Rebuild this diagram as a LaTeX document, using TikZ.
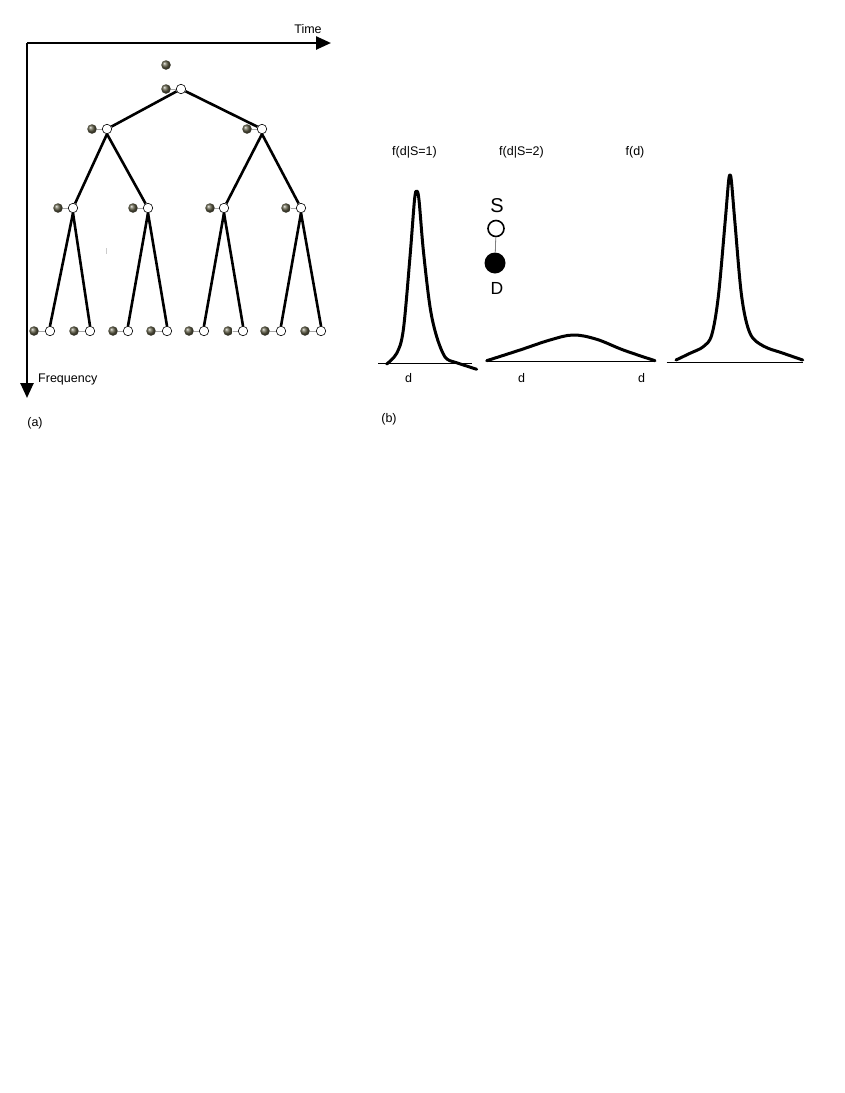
\documentclass[tikz,border=0pt]{standalone}
\usepackage{fontspec}
\setmainfont{Liberation Sans}
\usetikzlibrary{arrows.meta}
\definecolor{ballc}{RGB}{95,93,70}
\tikzset{
  wball/.style={circle,draw=black,fill=white,inner sep=0pt,minimum size=9.5pt,line width=0.6pt},
  dball/.style={circle,inner sep=0pt,minimum size=9.5pt,shading=ball,ball color=ballc},
  edge/.style={line width=2.6pt},
  link/.style={draw=gray!70,line width=0.7pt},
  axis/.style={line width=2.5pt,-{Triangle[length=15pt,width=13pt]}},
  curve/.style={line width=3pt,line join=round,line cap=round},
  base/.style={line width=1.2pt},
  lbl/.style={font=\fontsize{12.5}{14}\selectfont,inner sep=0pt}
}
\begin{document}
\begin{tikzpicture}[x=1pt,y=-1pt]
\useasboundingbox[fill=white] (0,0) rectangle (845,1093);
% axes
\coordinate (o) at (27,43);
\coordinate (tx) at (331,43);
\coordinate (fy) at (27,398);
\draw[axis] (o) -- (tx);
\draw[axis] (o) -- (fy);
\node[lbl] (time) at (308,29) {Time};
\node[lbl,anchor=west] (freq) at (38,379) {Frequency};
\node[lbl] (la) at (35,423) {(a)};
\node[lbl] (lb) at (389,419) {(b)};
% tree
\node[dball] (top) at (166,65) {};
\node[wball] (r) at (181,89) {};
\node[dball] (rd) at (166,89) {};
\node[wball] (a) at (107,129) {};
\node[dball] (ad) at (92,129) {};
\node[wball] (b) at (262,129) {};
\node[dball] (bd) at (247,129) {};
\foreach \n/\x/\dx in {a1/73/58, a2/148/133, b1/224/210, b2/301/286}{
  \node[wball] (\n) at (\x,208) {};
  \node[dball] (\n d) at (\dx,208) {};
}
\foreach \n/\x/\dx in {c1/50/34, c2/90/74, c3/128/113, c4/167/151, c5/204/189, c6/243/228, c7/281/265, c8/321/305}{
  \node[wball] (\n) at (\x,331) {};
  \node[dball] (\n d) at (\dx,331) {};
}
\foreach \n in {r,a,b,a1,a2,b1,b2,c1,c2,c3,c4,c5,c6,c7,c8}{
  \draw[link] (\n d) -- (\n);
}
\draw[edge] (r) -- (a);
\draw[edge] (r) -- (b);
\draw[edge] (a.south) -- (a1);
\draw[edge] (a.south) -- (a2);
\draw[edge] (b.south) -- (b1);
\draw[edge] (b.south) -- (b2);
\draw[edge] (a1.south) -- (c1.north);
\draw[edge] (a1.south) -- (c2.north);
\draw[edge] (a2.south) -- (c3.north);
\draw[edge] (a2.south) -- (c4.north);
\draw[edge] (b1.south) -- (c5.north);
\draw[edge] (b1.south) -- (c6.north);
\draw[edge] (b2.south) -- (c7.north);
\draw[edge] (b2.south) -- (c8.north);
\draw[gray!40,line width=0.6pt] (106,248) -- (106,254);
% panel b labels
\node[lbl] (t1) at (414.5,152.5) {f(d|S=1)};
\node[lbl] (t2) at (521.5,152.5) {f(d|S=2)};
\node[lbl] (t3) at (635,152.5) {f(d)};
\node[lbl] (d1) at (408.5,378) {d};
\node[lbl] (d2) at (521.5,378) {d};
\node[lbl] (d3) at (641.5,378) {d};
% S-D legend
\node[inner sep=0pt,font=\fontsize{20}{22}\selectfont] (S) at (497,205.5) {S};
\node[circle,draw=black,line width=1.6pt,fill=white,inner sep=0pt,minimum size=16pt] (sc) at (496,228.5) {};
\node[circle,fill=black,inner sep=0pt,minimum size=21pt] (dc) at (495,263) {};
\draw[gray,line width=0.8pt] (sc) -- (dc);
\node[inner sep=0pt,font=\fontsize{17.5}{20}\selectfont] (D) at (497,288.5) {D};
% baselines
\draw[base] (378.3,363.3) -- (471.7,363.3);
\draw[base] (486.7,361.7) -- (655,361.7);
\draw[base] (666.7,362.7) -- (802.7,362.7);
% curves
\draw[curve] plot[smooth,tension=0.55] coordinates {(386.7,364) (396.7,353.3) (403.3,330) (410,256.7) (414.5,200) (416.7,191) (419,200) (423.3,250) (430,306.7) (436.7,336.7) (445,357) (453.3,361.7)} -- (476.7,369.3);
\draw[curve] plot[smooth,tension=0.6] coordinates {(486.7,360.7) (520,350) (550,340) (573.3,335) (596.7,339.3) (623.3,350) (655,360.7)};
\draw[curve] plot[smooth,tension=0.55] coordinates {(676,360) (690,353.3) (703.3,346.7) (711.7,335) (718.3,296.7) (725,223.3) (728.5,182) (730,175) (731.5,182) (735,223.3) (741.7,296.7) (750,333.3) (763.3,346) (783.3,353.3) (802.7,360)};
\end{tikzpicture}
\end{document}
